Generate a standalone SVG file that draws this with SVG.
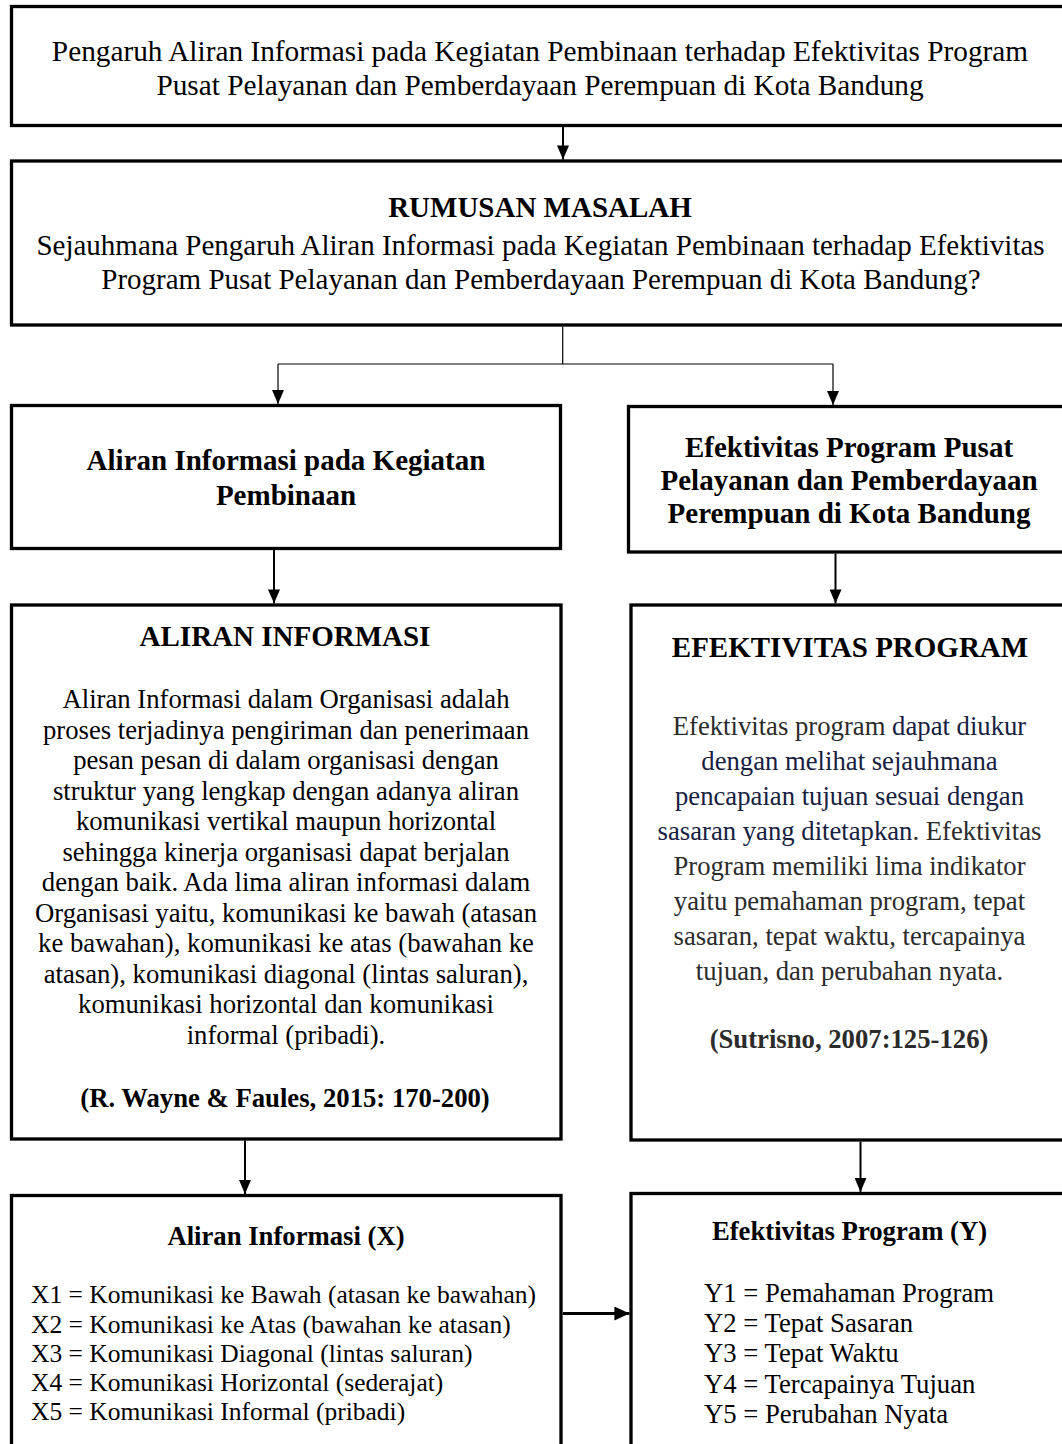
<svg xmlns="http://www.w3.org/2000/svg" width="1062" height="1444" viewBox="0 0 1062 1444">
<style>
.box{fill:#fff;stroke:#000;stroke-width:3.3}
.t{font-family:"Liberation Serif","Times New Roman",serif;fill:#000}
.c{text-anchor:middle}
.f29{font-size:29px}
.f293{font-size:29.3px}
.f27{font-size:26.7px}
.f25{font-size:25.5px}
.b{font-weight:bold}
.thin{fill:none;stroke:#000;stroke-width:1.2}
.arr{fill:none;stroke:#000;stroke-width:2}
.thick{fill:none;stroke:#000;stroke-width:3.2}
.gray{fill:#2b2b2b}
.navy{fill:#17203f}
</style>
<defs>
<marker id="ah" markerUnits="userSpaceOnUse" markerWidth="14" markerHeight="12" refX="14" refY="6" orient="auto" viewBox="0 0 14 12">
<path d="M0,0 L14,6 L0,12 z" fill="#000"/>
</marker>
<marker id="ah2" markerUnits="userSpaceOnUse" markerWidth="15" markerHeight="14" refX="15" refY="7" orient="auto" viewBox="0 0 15 14">
<path d="M0,0 L15,7 L0,14 z" fill="#000"/>
</marker>
</defs>
<rect width="1062" height="1444" fill="#fff"/>

<g id="connectors">
<line class="arr" x1="563" y1="127" x2="563" y2="159.4" marker-end="url(#ah)"/>
<path class="thin" d="M562.7,326.6 V364 M278,364 H833"/>
<line class="thin" x1="278" y1="364" x2="278" y2="403.9" marker-end="url(#ah)"/>
<line class="thin" x1="833" y1="364" x2="833" y2="404.9" marker-end="url(#ah)"/>
<line class="arr" x1="274" y1="550" x2="274" y2="603.4" marker-end="url(#ah)"/>
<line class="arr" x1="835.5" y1="553.6" x2="835.5" y2="603.4" marker-end="url(#ah)"/>
<line class="arr" x1="245" y1="1140.6" x2="245" y2="1193.9" marker-end="url(#ah)"/>
<line class="arr" x1="860.5" y1="1141.6" x2="860.5" y2="1191.9" marker-end="url(#ah)"/>
<line class="thick" x1="562.7" y1="1313.5" x2="629.4" y2="1313.5" marker-end="url(#ah2)"/>
</g>

<g id="judul">
<rect class="box" x="11.5" y="6.5" width="1057.5" height="119"/>
<text class="t c f293" x="540" y="60.5">Pengaruh Aliran Informasi pada Kegiatan Pembinaan terhadap Efektivitas Program</text>
<text class="t c f293" x="540" y="95">Pusat Pelayanan dan Pemberdayaan Perempuan di Kota Bandung</text>
</g>

<g id="rumusan">
<rect class="box" x="11.5" y="161" width="1057.5" height="164"/>
<text class="t c f29 b" x="540" y="216.5">RUMUSAN MASALAH</text>
<text class="t c f29" x="540.5" y="255">Sejauhmana Pengaruh Aliran Informasi pada Kegiatan Pembinaan terhadap Efektivitas</text>
<text class="t c f29" x="541" y="288.5">Program Pusat Pelayanan dan Pemberdayaan Perempuan di Kota Bandung?</text>
</g>

<g id="var-x">
<rect class="box" x="11.5" y="405.5" width="549" height="143"/>
<text class="t c f29 b" x="286" y="470">Aliran Informasi pada Kegiatan</text>
<text class="t c f29 b" x="286" y="505">Pembinaan</text>
</g>

<g id="var-y">
<rect class="box" x="628.5" y="406.5" width="441" height="145.5"/>
<text class="t c f29 b" x="849" y="457">Efektivitas Program Pusat</text>
<text class="t c f29 b" x="849" y="490">Pelayanan dan Pemberdayaan</text>
<text class="t c f29 b" x="849" y="523">Perempuan di Kota Bandung</text>
</g>

<g id="teori-x">
<rect class="box" x="11.5" y="605" width="549.5" height="534"/>
<text class="t c f29 b" x="285" y="645.5">ALIRAN INFORMASI</text>
<g class="t c f27">
<text x="286" y="708">Aliran Informasi dalam Organisasi adalah</text>
<text x="286" y="738.5">proses terjadinya pengiriman dan penerimaan</text>
<text x="286" y="769">pesan pesan di dalam organisasi dengan</text>
<text x="286" y="799.5">struktur yang lengkap dengan adanya aliran</text>
<text x="286" y="830">komunikasi vertikal maupun horizontal</text>
<text x="286" y="860.5">sehingga kinerja organisasi dapat berjalan</text>
<text x="286" y="891">dengan baik. Ada lima aliran informasi dalam</text>
<text x="286" y="921.5">Organisasi yaitu, komunikasi ke bawah (atasan</text>
<text x="286" y="952">ke bawahan), komunikasi ke atas (bawahan ke</text>
<text x="286" y="982.5">atasan), komunikasi diagonal (lintas saluran),</text>
<text x="286" y="1013">komunikasi horizontal dan komunikasi</text>
<text x="286" y="1043.5">informal (pribadi).</text>
</g>
<text class="t c f27 b" x="285" y="1106.5">(R. Wayne &amp; Faules, 2015: 170-200)</text>
</g>

<g id="teori-y">
<rect class="box" x="631" y="605" width="438" height="535"/>
<text class="t c f29 b" x="850" y="656.5">EFEKTIVITAS PROGRAM</text>
<g class="t c f27">
<text x="849.5" y="735"><tspan class="gray">Efektivitas program </tspan><tspan class="navy">dapat diukur</tspan></text>
<text x="849.5" y="770" class="navy">dengan melihat sejauhmana</text>
<text x="849.5" y="805" class="navy">pencapaian tujuan sesuai dengan</text>
<text x="849.5" y="840"><tspan class="navy">sasaran yang ditetapkan</tspan><tspan class="gray">. Efektivitas</tspan></text>
<text x="849.5" y="875" class="gray">Program memiliki lima indikator</text>
<text x="849.5" y="910" class="gray">yaitu pemahaman program, tepat</text>
<text x="849.5" y="945" class="gray">sasaran, tepat waktu, tercapainya</text>
<text x="849.5" y="980" class="gray">tujuan, dan perubahan nyata.</text>
</g>
<text class="t c f27 b gray" x="849" y="1048">(Sutrisno, 2007:125-126)</text>
</g>

<g id="indikator-x">
<rect class="box" x="11.5" y="1195.5" width="549.5" height="260"/>
<text class="t c f27 b" x="286" y="1245">Aliran Informasi (X)</text>
<g class="t f25">
<text x="31" y="1303">X1 = Komunikasi ke Bawah (atasan ke bawahan)</text>
<text x="31" y="1332.5">X2 = Komunikasi ke Atas (bawahan ke atasan)</text>
<text x="31" y="1361.5">X3 = Komunikasi Diagonal (lintas saluran)</text>
<text x="31" y="1391">X4 = Komunikasi Horizontal (sederajat)</text>
<text x="31" y="1420">X5 = Komunikasi Informal (pribadi)</text>
</g>
</g>

<g id="indikator-y">
<rect class="box" x="631" y="1193.5" width="438" height="260"/>
<text class="t c f27 b" x="849.5" y="1240">Efektivitas Program (Y)</text>
<g class="t f27">
<text x="704" y="1301.5">Y1 = Pemahaman Program</text>
<text x="704" y="1332">Y2 = Tepat Sasaran</text>
<text x="704" y="1362">Y3 = Tepat Waktu</text>
<text x="704" y="1392.5">Y4 = Tercapainya Tujuan</text>
<text x="704" y="1423">Y5 = Perubahan Nyata</text>
</g>
</g>
</svg>
